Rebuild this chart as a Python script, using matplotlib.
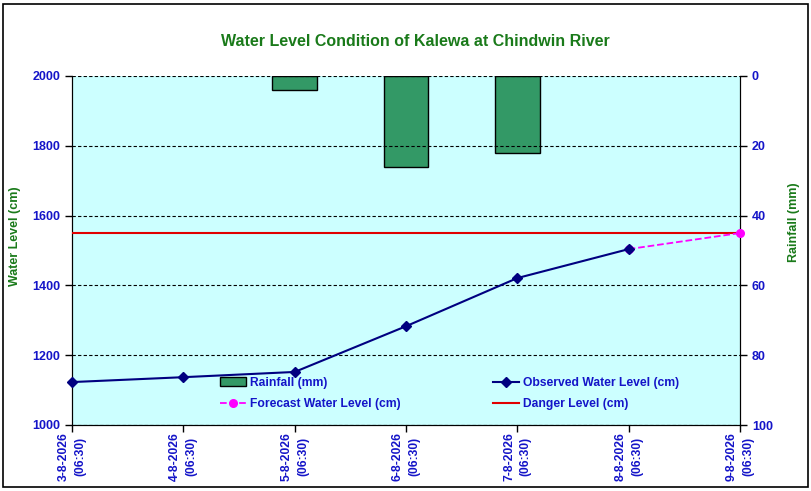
import matplotlib.pyplot as plt
import numpy as np
from matplotlib.patches import Rectangle

dates = ['3-8-2026\n(06:30)', '4-8-2026\n(06:30)', '5-8-2026\n(06:30)', '6-8-2026\n(06:30)',
         '7-8-2026\n(06:30)', '8-8-2026\n(06:30)', '9-8-2026\n(06:30)']
observed = [1123, 1137, 1152, 1283, 1421, 1504]
forecast_idx = [5, 6]
forecast = [1504, 1550]
rain_idx = [2, 3, 4]
rainfall = [4.1, 26.1, 22.1]
danger_level = 1550

blue = '#1414c8'
green = '#1a7a1a'
sans = ['Liberation Sans', 'DejaVu Sans']
tick_font = dict(family=sans, weight='bold', size=9, color=blue)

fig = plt.figure(figsize=(8.12, 4.91), dpi=100)
fig.patches.append(Rectangle((3 / 812, 4 / 491), 805 / 812, 483 / 491, transform=fig.transFigure,
                             fill=False, edgecolor='black', linewidth=1.2))
ax = fig.add_axes([72 / 812, 1 - 425 / 491, 668 / 812, 349 / 491])
x = np.arange(len(dates))

ax.set_xlim(0, len(dates) - 1)
ax.set_ylim(1000, 2000)
ax.set_yticks(range(1000, 2001, 200))
ax.yaxis.grid(True, linestyle=(0, (3, 2)), color='black', linewidth=0.8)
ax.spines['top'].set_visible(False)
ax.set_xticks(x)
ax.set_xticklabels(dates, rotation=90, linespacing=1.5)
for lab in ax.get_xticklabels() + ax.get_yticklabels():
    lab.set(**tick_font)
for lab in ax.get_xticklabels():
    lab.set_fontsize(8.7)
ax.tick_params(axis='both', direction='out', length=5, width=1)
ax.tick_params(axis='x', pad=0)
ax.set_ylabel('Water Level (cm)', color=green, fontweight='bold', fontsize=9, family=sans)
ax.yaxis.set_label_coords(-0.0756, 0.54)

ax2 = ax.twinx()
ax2.set_ylim(100, 0)
ax2.set_yticks(range(0, 101, 20))
for lab in ax2.get_yticklabels():
    lab.set(**tick_font)
ax2.tick_params(axis='y', direction='out', length=5, width=1)
ax2.spines['top'].set_visible(False)
ax2.set_ylabel('Rainfall (mm)', color=green, fontweight='bold', fontsize=9, family=sans)
ax2.yaxis.set_label_coords(1.0715, 0.58)

bars = ax2.bar(rain_idx, rainfall, width=0.4, color='#339966', edgecolor='black', linewidth=1,
               label='Rainfall (mm)')

danger, = ax.plot([0, len(dates) - 1], [danger_level, danger_level], color='#e00000', linewidth=1.5,
                  label='Danger Level (cm)', zorder=3)
fc, = ax.plot(forecast_idx, forecast, color='#ff00ff', linestyle='--', marker='o', markersize=5.5,
              linewidth=1.3, label='Forecast Water Level (cm)', zorder=4, clip_on=False)
obs, = ax.plot(x[:len(observed)], observed, color='#000080', marker='D', markersize=5, linewidth=1.5,
               label='Observed Water Level (cm)', zorder=5, clip_on=False)
# keep lines above the bars, background on the rear axes
ax.set_zorder(ax2.get_zorder() + 1)
ax.patch.set_visible(False)
ax2.patch.set_visible(True)
ax2.set_facecolor('#ccffff')

leg = fig.legend([bars, fc, obs, danger],
                 ['Rainfall (mm)', 'Forecast Water Level (cm)', 'Observed Water Level (cm)', 'Danger Level (cm)'],
                 ncol=2, frameon=False, loc='upper left', bbox_to_anchor=(209 / 812, 1 - 366 / 491),
                 prop={'family': sans, 'weight': 'bold', 'size': 8.7},
                 columnspacing=7.6, handlelength=2.2, handletextpad=0.3, labelspacing=0.75)
for t in leg.get_texts():
    t.set_color(blue)

fig.text(415 / 812, 1 - 41 / 491, 'Water Level Condition of Kalewa at Chindwin River', ha='center', va='center',
         color=green, fontweight='bold', fontsize=11.5, family=sans)

fig.savefig('out.png', dpi=100)
